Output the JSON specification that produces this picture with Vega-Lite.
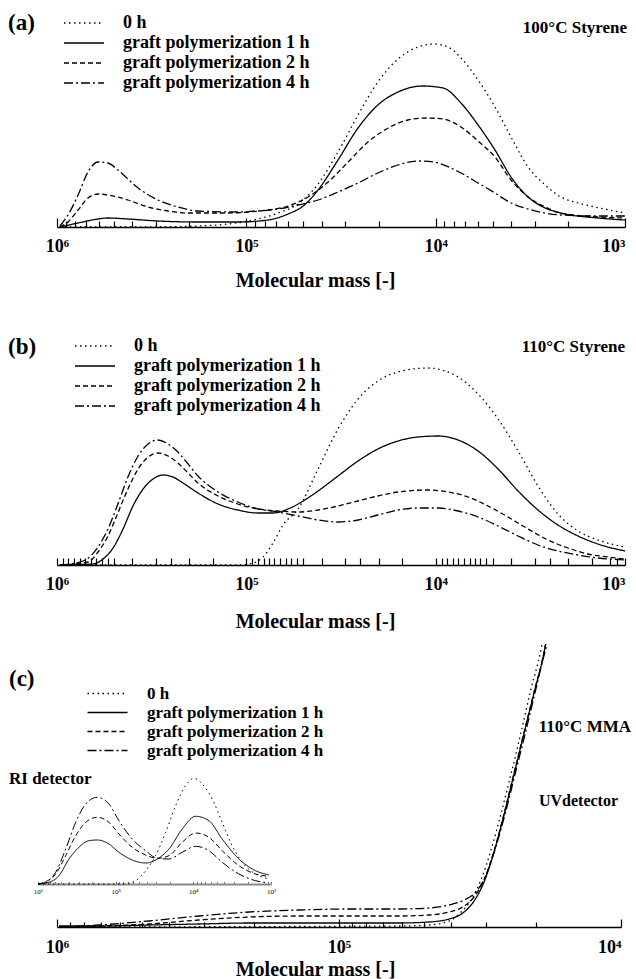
{
  "$schema": "https://vega.github.io/schema/vega-lite/v6.json",
  "padding": {"left": 7, "top": 0, "right": 0, "bottom": 0},
  "background": "white",
  "spacing": 10,
  "config": {
    "view": {"stroke": null},
    "font": "Liberation Serif",
    "axis": {"grid": false, "domainColor": "#000", "domainWidth": 1.5, "tickColor": "#000", "tickWidth": 1.2, "labelColor": "#000", "labelFont": "Liberation Serif", "labelFontWeight": "bold", "labelFontSize": 18, "labelFlush": false, "labelOverlap": false, "titleColor": "#000", "titleFont": "Liberation Serif", "titleFontWeight": "bold", "titleFontSize": 20},
    "legend": {"title": null, "symbolType": "M-4,0H4", "symbolSize": 100, "symbolOffset": 14, "symbolStrokeWidth": 1.5, "symbolStrokeColor": "#000", "labelFont": "Liberation Serif", "labelFontWeight": "bold", "labelColor": "#000", "labelLimit": 400, "padding": 0},
    "text": {"font": "Liberation Serif", "fontWeight": "bold", "color": "#000"},
    "line": {"color": "#000", "strokeWidth": 1.3, "interpolate": "monotone"}
  },
  "datasets": {
    "a": [
      {"s":"0","M":965000,"w":0},{"s":"0","M":330000,"w":0},{"s":"0","M":180000,"w":1},{"s":"0","M":125000,"w":3},{"s":"0","M":86700,"w":8},{"s":"0","M":68000,"w":14},{"s":"0","M":53300,"w":23},{"s":"0","M":41800,"w":43},{"s":"0","M":32800,"w":75},{"s":"0","M":25700,"w":112},{"s":"0","M":20200,"w":145},{"s":"0","M":15800,"w":168},{"s":"0","M":12400,"w":180},{"s":"0","M":10300,"w":183},{"s":"0","M":8600,"w":180},{"s":"0","M":7350,"w":169},{"s":"0","M":5970,"w":147},{"s":"0","M":4860,"w":120},{"s":"0","M":4000,"w":90},{"s":"0","M":3250,"w":60},{"s":"0","M":2640,"w":42},{"s":"0","M":2180,"w":30},{"s":"0","M":1770,"w":24},{"s":"0","M":1440,"w":20},{"s":"0","M":1000,"w":14},
      {"s":"1","M":965000,"w":0},{"s":"1","M":774000,"w":4},{"s":"1","M":607000,"w":8},{"s":"1","M":538000,"w":9},{"s":"1","M":422000,"w":8},{"s":"1","M":293000,"w":6},{"s":"1","M":180000,"w":5},{"s":"1","M":111000,"w":5},{"s":"1","M":76800,"w":7},{"s":"1","M":60200,"w":13},{"s":"1","M":50100,"w":21},{"s":"1","M":41800,"w":37},{"s":"1","M":32800,"w":67},{"s":"1","M":25700,"w":99},{"s":"1","M":20200,"w":122},{"s":"1","M":15800,"w":135},{"s":"1","M":11700,"w":141},{"s":"1","M":9140,"w":139},{"s":"1","M":7350,"w":124},{"s":"1","M":5970,"w":102},{"s":"1","M":4860,"w":77},{"s":"1","M":4000,"w":50},{"s":"1","M":3250,"w":30},{"s":"1","M":2640,"w":19},{"s":"1","M":2180,"w":14},{"s":"1","M":1390,"w":9},{"s":"1","M":1000,"w":7},
      {"s":"2","M":965000,"w":0},{"s":"2","M":875000,"w":5},{"s":"2","M":774000,"w":17},{"s":"2","M":686000,"w":29},{"s":"2","M":607000,"w":33},{"s":"2","M":538000,"w":32},{"s":"2","M":422000,"w":27},{"s":"2","M":330000,"w":20},{"s":"2","M":259000,"w":16},{"s":"2","M":203000,"w":14},{"s":"2","M":125000,"w":14},{"s":"2","M":98000,"w":15},{"s":"2","M":76800,"w":17},{"s":"2","M":60200,"w":21},{"s":"2","M":47200,"w":30},{"s":"2","M":37000,"w":45},{"s":"2","M":29000,"w":65},{"s":"2","M":22800,"w":85},{"s":"2","M":17800,"w":99},{"s":"2","M":14000,"w":107},{"s":"2","M":11200,"w":109},{"s":"2","M":9140,"w":108},{"s":"2","M":7350,"w":100},{"s":"2","M":5970,"w":86},{"s":"2","M":4860,"w":70},{"s":"2","M":4000,"w":47},{"s":"2","M":3250,"w":30},{"s":"2","M":2640,"w":20},{"s":"2","M":2180,"w":14},{"s":"2","M":1390,"w":10},{"s":"2","M":1000,"w":9},
      {"s":"4","M":965000,"w":1},{"s":"4","M":875000,"w":12},{"s":"4","M":774000,"w":32},{"s":"4","M":686000,"w":55},{"s":"4","M":607000,"w":65},{"s":"4","M":538000,"w":64},{"s":"4","M":477000,"w":57},{"s":"4","M":373000,"w":39},{"s":"4","M":293000,"w":27},{"s":"4","M":230000,"w":20},{"s":"4","M":180000,"w":16},{"s":"4","M":111000,"w":15},{"s":"4","M":86700,"w":16},{"s":"4","M":68000,"w":18},{"s":"4","M":53300,"w":22},{"s":"4","M":41800,"w":27},{"s":"4","M":32800,"w":35},{"s":"4","M":25700,"w":44},{"s":"4","M":20200,"w":54},{"s":"4","M":15800,"w":62},{"s":"4","M":12400,"w":66},{"s":"4","M":10300,"w":65},{"s":"4","M":7350,"w":54},{"s":"4","M":5970,"w":44},{"s":"4","M":4860,"w":34},{"s":"4","M":4000,"w":24},{"s":"4","M":3250,"w":18},{"s":"4","M":2180,"w":12},{"s":"4","M":1390,"w":11},{"s":"4","M":1000,"w":11}
    ],
    "b": [
      {"s":"0","M":965000,"w":0},{"s":"0","M":111000,"w":0},{"s":"0","M":92000,"w":2},{"s":"0","M":81600,"w":8},{"s":"0","M":72300,"w":22},{"s":"0","M":64000,"w":40},{"s":"0","M":53300,"w":56},{"s":"0","M":41800,"w":96},{"s":"0","M":32800,"w":136},{"s":"0","M":25700,"w":166},{"s":"0","M":20200,"w":184},{"s":"0","M":15800,"w":193},{"s":"0","M":11000,"w":197},{"s":"0","M":7610,"w":188},{"s":"0","M":5970,"w":171},{"s":"0","M":4680,"w":146},{"s":"0","M":3670,"w":114},{"s":"0","M":2880,"w":79},{"s":"0","M":2260,"w":51},{"s":"0","M":1770,"w":34},{"s":"0","M":1390,"w":25},{"s":"0","M":1000,"w":18},
      {"s":"1","M":965000,"w":0},{"s":"1","M":645000,"w":1},{"s":"1","M":571000,"w":6},{"s":"1","M":506000,"w":17},{"s":"1","M":448000,"w":36},{"s":"1","M":397000,"w":59},{"s":"1","M":351000,"w":76},{"s":"1","M":311000,"w":86},{"s":"1","M":275000,"w":90},{"s":"1","M":244000,"w":88},{"s":"1","M":216000,"w":82},{"s":"1","M":180000,"w":72},{"s":"1","M":141000,"w":61},{"s":"1","M":111000,"w":55},{"s":"1","M":86700,"w":52},{"s":"1","M":72300,"w":52},{"s":"1","M":60200,"w":56},{"s":"1","M":50100,"w":64},{"s":"1","M":41800,"w":74},{"s":"1","M":32800,"w":89},{"s":"1","M":25700,"w":104},{"s":"1","M":20200,"w":116},{"s":"1","M":15800,"w":124},{"s":"1","M":12400,"w":128},{"s":"1","M":9710,"w":129},{"s":"1","M":7610,"w":125},{"s":"1","M":5970,"w":114},{"s":"1","M":4680,"w":96},{"s":"1","M":3670,"w":74},{"s":"1","M":2880,"w":55},{"s":"1","M":2260,"w":40},{"s":"1","M":1770,"w":29},{"s":"1","M":1390,"w":21},{"s":"1","M":1000,"w":14},
      {"s":"2","M":965000,"w":0},{"s":"2","M":686000,"w":3},{"s":"2","M":607000,"w":13},{"s":"2","M":538000,"w":29},{"s":"2","M":477000,"w":52},{"s":"2","M":422000,"w":76},{"s":"2","M":373000,"w":96},{"s":"2","M":330000,"w":108},{"s":"2","M":293000,"w":112},{"s":"2","M":259000,"w":109},{"s":"2","M":230000,"w":102},{"s":"2","M":203000,"w":92},{"s":"2","M":180000,"w":82},{"s":"2","M":141000,"w":69},{"s":"2","M":111000,"w":61},{"s":"2","M":86700,"w":56},{"s":"2","M":68000,"w":54},{"s":"2","M":53300,"w":53},{"s":"2","M":41800,"w":55},{"s":"2","M":32800,"w":59},{"s":"2","M":25700,"w":64},{"s":"2","M":20200,"w":69},{"s":"2","M":15800,"w":73},{"s":"2","M":11000,"w":75},{"s":"2","M":8600,"w":73},{"s":"2","M":6740,"w":68},{"s":"2","M":5290,"w":59},{"s":"2","M":4150,"w":48},{"s":"2","M":3250,"w":36},{"s":"2","M":2550,"w":25},{"s":"2","M":2000,"w":17},{"s":"2","M":1570,"w":11},{"s":"2","M":1230,"w":8},{"s":"2","M":1000,"w":6},
      {"s":"4","M":965000,"w":0},{"s":"4","M":729000,"w":4},{"s":"4","M":607000,"w":18},{"s":"4","M":538000,"w":36},{"s":"4","M":477000,"w":61},{"s":"4","M":422000,"w":88},{"s":"4","M":373000,"w":109},{"s":"4","M":330000,"w":121},{"s":"4","M":293000,"w":125},{"s":"4","M":259000,"w":121},{"s":"4","M":230000,"w":113},{"s":"4","M":203000,"w":101},{"s":"4","M":180000,"w":89},{"s":"4","M":141000,"w":73},{"s":"4","M":111000,"w":63},{"s":"4","M":86700,"w":56},{"s":"4","M":68000,"w":53},{"s":"4","M":53300,"w":49},{"s":"4","M":41800,"w":45},{"s":"4","M":32800,"w":43},{"s":"4","M":25700,"w":45},{"s":"4","M":20200,"w":50},{"s":"4","M":15800,"w":55},{"s":"4","M":12400,"w":57},{"s":"4","M":9710,"w":57},{"s":"4","M":7610,"w":54},{"s":"4","M":5970,"w":48},{"s":"4","M":4680,"w":39},{"s":"4","M":3670,"w":29},{"s":"4","M":2880,"w":20},{"s":"4","M":2260,"w":14},{"s":"4","M":1770,"w":10},{"s":"4","M":1390,"w":7},{"s":"4","M":1000,"w":5}
    ],
    "cuv": [
      {"s":"0","M":984000,"w":0},{"s":"0","M":61300,"w":1},{"s":"0","M":48000,"w":2},{"s":"0","M":40700,"w":6},{"s":"0","M":36900,"w":15},{"s":"0","M":34000,"w":27},{"s":"0","M":31400,"w":47},{"s":"0","M":28900,"w":77},{"s":"0","M":26600,"w":114},{"s":"0","M":24500,"w":154},{"s":"0","M":22600,"w":195},{"s":"0","M":20900,"w":237},{"s":"0","M":19200,"w":278},{"s":"0","M":19050,"w":283},
      {"s":"1","M":984000,"w":1},{"s":"1","M":710000,"w":1},{"s":"1","M":472000,"w":2},{"s":"1","M":314000,"w":3},{"s":"1","M":208000,"w":4},{"s":"1","M":139000,"w":4},{"s":"1","M":92200,"w":4},{"s":"1","M":61300,"w":4},{"s":"1","M":48000,"w":5},{"s":"1","M":40700,"w":8},{"s":"1","M":36000,"w":15},{"s":"1","M":33200,"w":26},{"s":"1","M":30600,"w":45},{"s":"1","M":28200,"w":75},{"s":"1","M":26000,"w":112},{"s":"1","M":24000,"w":152},{"s":"1","M":22100,"w":193},{"s":"1","M":20300,"w":235},{"s":"1","M":18700,"w":276},{"s":"1","M":18500,"w":283},
      {"s":"2","M":984000,"w":0},{"s":"2","M":710000,"w":1},{"s":"2","M":472000,"w":3},{"s":"2","M":314000,"w":7},{"s":"2","M":208000,"w":10},{"s":"2","M":139000,"w":11},{"s":"2","M":92200,"w":11},{"s":"2","M":61300,"w":11},{"s":"2","M":48000,"w":12},{"s":"2","M":40700,"w":15},{"s":"2","M":36000,"w":21},{"s":"2","M":33200,"w":30},{"s":"2","M":30600,"w":47},{"s":"2","M":28200,"w":76},{"s":"2","M":26000,"w":113},{"s":"2","M":24000,"w":153},{"s":"2","M":22100,"w":194},{"s":"2","M":20300,"w":236},{"s":"2","M":18700,"w":276},{"s":"2","M":18500,"w":283},
      {"s":"4","M":984000,"w":0},{"s":"4","M":710000,"w":2},{"s":"4","M":472000,"w":6},{"s":"4","M":314000,"w":11},{"s":"4","M":208000,"w":15},{"s":"4","M":139000,"w":17},{"s":"4","M":92200,"w":18},{"s":"4","M":61300,"w":18},{"s":"4","M":48000,"w":19},{"s":"4","M":40700,"w":22},{"s":"4","M":36000,"w":27},{"s":"4","M":32700,"w":35},{"s":"4","M":30100,"w":52},{"s":"4","M":27800,"w":80},{"s":"4","M":25600,"w":116},{"s":"4","M":23600,"w":156},{"s":"4","M":21700,"w":197},{"s":"4","M":20000,"w":239},{"s":"4","M":18500,"w":278},{"s":"4","M":18300,"w":283}
    ],
    "cri": [
      {"s":"0","M":1000000,"w":0},{"s":"0","M":74300,"w":0},{"s":"0","M":55300,"w":3.3},{"s":"0","M":41100,"w":13.3},{"s":"0","M":30600,"w":28.3},{"s":"0","M":22700,"w":51.7},{"s":"0","M":16900,"w":78.3},{"s":"0","M":12600,"w":98.3},{"s":"0","M":9820,"w":105.7},{"s":"0","M":7680,"w":100},{"s":"0","M":5710,"w":85},{"s":"0","M":4250,"w":61.7},{"s":"0","M":3160,"w":38.3},{"s":"0","M":2350,"w":21.7},{"s":"0","M":1580,"w":10},{"s":"0","M":1060,"w":5},
      {"s":"1","M":1000000,"w":0},{"s":"1","M":722000,"w":1.7},{"s":"1","M":537000,"w":8.3},{"s":"1","M":399000,"w":25},{"s":"1","M":297000,"w":36.7},{"s":"1","M":221000,"w":43.3},{"s":"1","M":172000,"w":44},{"s":"1","M":122000,"w":40},{"s":"1","M":90700,"w":31.7},{"s":"1","M":61200,"w":24},{"s":"1","M":41100,"w":21},{"s":"1","M":29100,"w":25},{"s":"1","M":20600,"w":35},{"s":"1","M":13900,"w":55},{"s":"1","M":9340,"w":67.7},{"s":"1","M":6300,"w":63.3},{"s":"1","M":4250,"w":45},{"s":"1","M":2590,"w":25},{"s":"1","M":1580,"w":13.3},{"s":"1","M":1060,"w":9},
      {"s":"2","M":1000000,"w":0},{"s":"2","M":796000,"w":2.3},{"s":"2","M":592000,"w":10},{"s":"2","M":440000,"w":28.3},{"s":"2","M":327000,"w":48.3},{"s":"2","M":243000,"w":61.7},{"s":"2","M":172000,"w":66.7},{"s":"2","M":122000,"w":61.7},{"s":"2","M":90700,"w":50},{"s":"2","M":61200,"w":36.7},{"s":"2","M":41100,"w":29},{"s":"2","M":29100,"w":25.7},{"s":"2","M":20600,"w":28.3},{"s":"2","M":13900,"w":41.7},{"s":"2","M":9340,"w":51},{"s":"2","M":6300,"w":46.7},{"s":"2","M":4250,"w":33.3},{"s":"2","M":2590,"w":18.3},{"s":"2","M":1580,"w":10},{"s":"2","M":1060,"w":7.7},
      {"s":"4","M":1000000,"w":0},{"s":"4","M":796000,"w":1.7},{"s":"4","M":592000,"w":11.7},{"s":"4","M":440000,"w":35},{"s":"4","M":327000,"w":61.7},{"s":"4","M":243000,"w":80},{"s":"4","M":172000,"w":86.7},{"s":"4","M":122000,"w":80},{"s":"4","M":90700,"w":63.3},{"s":"4","M":61200,"w":45},{"s":"4","M":41100,"w":33.3},{"s":"4","M":29100,"w":25.7},{"s":"4","M":20600,"w":25},{"s":"4","M":13900,"w":31.7},{"s":"4","M":9340,"w":37.7},{"s":"4","M":6300,"w":33.3},{"s":"4","M":4250,"w":21.7},{"s":"4","M":2590,"w":10},{"s":"4","M":1580,"w":3.3},{"s":"4","M":1060,"w":1}
    ]
  },
  "vconcat": [
    {
      "width": 568, "height": 227,
      "layer": [
        {
          "data": {"name": "a"},
          "mark": {"type": "line"},
          "encoding": {
            "x": {"field": "M", "type": "quantitative", "scale": {"type": "log", "domain": [1000, 1000000], "reverse": true, "nice": false},
              "axis": {"values": [1000,2000,3000,4000,5000,6000,7000,8000,9000,10000,20000,30000,40000,50000,60000,70000,80000,90000,100000,200000,300000,400000,500000,600000,700000,800000,900000,1000000],
                "labelExpr": "datum.value == 1000000 ? '10⁶' : datum.value == 100000 ? '10⁵' : datum.value == 10000 ? '10⁴' : datum.value == 1000 ? '10³' : ''",
                "labelAlign": {"condition": {"test": "datum.value == 1000", "value": "right"}, "value": "center"},
                "tickSize": {"condition": {"test": "datum.value == 1000 || datum.value == 10000 || datum.value == 100000 || datum.value == 1000000", "value": -9}, "value": -6},
                "labelPadding": 19, "title": "Molecular mass [-]", "titlePadding": 12, "titleX": 258}},
            "y": {"field": "w", "type": "quantitative", "scale": {"domain": [0, 227]}, "axis": null},
            "strokeDash": {"field": "s", "type": "nominal", "scale": {"domain": ["0","1","2","4"], "range": [[1.5,3.5],[1,0],[5,3],[9,3,2,3]]},
              "legend": {"orient": "none", "legendX": 4, "legendY": 14, "labelFontSize": 18, "labelOffset": 30, "rowPadding": 2, "labelExpr": "datum.label == '0' ? '0 h' : 'graft polymerization ' + datum.label + ' h'"}}
          }
        },
        {
          "data": {"values": [{"t": "(a)"}]},
          "mark": {"type": "text", "align": "left", "baseline": "middle", "fontSize": 23},
          "encoding": {"text": {"field": "t"}, "x": {"datum": 1815000, "type": "quantitative", "scale": {"type": "log", "domain": [1000, 1000000], "reverse": true, "nice": false}}, "y": {"datum": 204, "type": "quantitative", "scale": {"domain": [0, 227]}}}
        },
        {
          "data": {"values": [{"t": "100°C Styrene"}]},
          "mark": {"type": "text", "align": "right", "baseline": "middle", "fontSize": 17},
          "encoding": {"text": {"field": "t"}, "x": {"datum": 975, "type": "quantitative", "scale": {"type": "log", "domain": [1000, 1000000], "reverse": true, "nice": false}}, "y": {"datum": 199, "type": "quantitative", "scale": {"domain": [0, 227]}}}
        }
      ]
    },
    {
      "width": 568, "height": 265,
      "layer": [
        {
          "data": {"name": "b"},
          "mark": {"type": "line"},
          "encoding": {
            "x": {"field": "M", "type": "quantitative", "scale": {"type": "log", "domain": [1000, 1000000], "reverse": true, "nice": false},
              "axis": {"values": [1000,1100,1200,1500,2000,2500,3000,4000,5000,5400,5800,6200,6600,7100,7600,8100,8700,9300,10000,15000,20000,25000,30000,40000,50000,54000,58000,62000,66000,71000,76000,81000,87000,93000,100000,150000,200000,250000,300000,400000,500000,540000,580000,620000,660000,710000,760000,810000,870000,930000,1000000],
                "labelExpr": "datum.value == 1000000 ? '10⁶' : datum.value == 100000 ? '10⁵' : datum.value == 10000 ? '10⁴' : datum.value == 1000 ? '10³' : ''",
                "labelAlign": {"condition": {"test": "datum.value == 1000", "value": "right"}, "value": "center"},
                "tickSize": -7, "labelPadding": 17, "title": "Molecular mass [-]", "titlePadding": 18, "titleX": 258}},
            "y": {"field": "w", "type": "quantitative", "scale": {"domain": [0, 265]}, "axis": null},
            "strokeDash": {"field": "s", "type": "nominal", "scale": {"domain": ["0","1","2","4"], "range": [[1.5,3.5],[1,0],[5,3],[9,3,2,3]]},
              "legend": {"orient": "none", "legendX": 15, "legendY": 37, "labelFontSize": 18, "labelOffset": 30, "rowPadding": 2, "labelExpr": "datum.label == '0' ? '0 h' : 'graft polymerization ' + datum.label + ' h'"}}
          }
        },
        {
          "data": {"values": [{"t": "(b)"}]},
          "mark": {"type": "text", "align": "left", "baseline": "middle", "fontSize": 23},
          "encoding": {"text": {"field": "t"}, "x": {"datum": 1815000, "type": "quantitative", "scale": {"type": "log", "domain": [1000, 1000000], "reverse": true, "nice": false}}, "y": {"datum": 218, "type": "quantitative", "scale": {"domain": [0, 265]}}}
        },
        {
          "data": {"values": [{"t": "110°C Styrene"}]},
          "mark": {"type": "text", "align": "right", "baseline": "middle", "fontSize": 17},
          "encoding": {"text": {"field": "t"}, "x": {"datum": 1000, "type": "quantitative", "scale": {"type": "log", "domain": [1000, 1000000], "reverse": true, "nice": false}}, "y": {"datum": 218, "type": "quantitative", "scale": {"domain": [0, 265]}}}
        }
      ]
    },
    {
      "width": 564, "height": 284,
      "layer": [
        {
          "layer": [
            {
              "data": {"name": "cuv"},
              "mark": {"type": "line"},
              "encoding": {
                "x": {"field": "M", "type": "quantitative", "scale": {"type": "log", "domain": [10000, 1000000], "reverse": true, "nice": false},
                  "axis": {"values": [10000,20000,30000,40000,50000,60000,70000,80000,90000,100000,200000,300000,400000,500000,600000,700000,800000,900000,1000000],
                    "labelExpr": "datum.value == 1000000 ? '10⁶' : datum.value == 100000 ? '10⁵' : datum.value == 10000 ? '10⁴' : ''",
                    "labelAlign": {"condition": {"test": "datum.value == 10000", "value": "right"}, "value": "center"},
                    "tickSize": {"condition": {"test": "datum.value == 10000 || datum.value == 100000 || datum.value == 1000000", "value": -8}, "value": -5},
                    "labelPadding": 19, "title": "Molecular mass [-]", "titlePadding": 0, "titleX": 258}},
                "y": {"field": "w", "type": "quantitative", "scale": {"domain": [0, 284]}, "axis": null},
                "strokeDash": {"field": "s", "type": "nominal", "scale": {"domain": ["0","1","2","4"], "range": [[1.5,3.5],[1,0],[5,3],[9,3,2,3]]},
                  "legend": {"orient": "none", "legendX": 28, "legendY": 42, "labelFontSize": 17, "labelOffset": 31, "rowPadding": 1, "labelExpr": "datum.label == '0' ? '0 h' : 'graft polymerization ' + datum.label + ' h'"}}
              }
            },
            {
              "data": {"values": [{"t": "(c)"}]},
              "mark": {"type": "text", "align": "left", "baseline": "middle", "fontSize": 23},
              "encoding": {"text": {"field": "t"}, "x": {"datum": 1480000, "type": "quantitative", "scale": {"type": "log", "domain": [10000, 1000000], "reverse": true, "nice": false}}, "y": {"datum": 248, "type": "quantitative", "scale": {"domain": [0, 284]}}}
            },
            {
              "data": {"values": [{"t": "110°C MMA"}]},
              "mark": {"type": "text", "align": "right", "baseline": "middle", "fontSize": 17},
              "encoding": {"text": {"field": "t"}, "x": {"datum": 9215, "type": "quantitative", "scale": {"type": "log", "domain": [10000, 1000000], "reverse": true, "nice": false}}, "y": {"datum": 200, "type": "quantitative", "scale": {"domain": [0, 284]}}}
            },
            {
              "data": {"values": [{"t": "UVdetector"}]},
              "mark": {"type": "text", "align": "left", "baseline": "middle", "fontSize": 16},
              "encoding": {"text": {"field": "t"}, "x": {"datum": 19540, "type": "quantitative", "scale": {"type": "log", "domain": [10000, 1000000], "reverse": true, "nice": false}}, "y": {"datum": 126, "type": "quantitative", "scale": {"domain": [0, 284]}}}
            },
            {
              "data": {"values": [{"t": "RI detector"}]},
              "mark": {"type": "text", "align": "left", "baseline": "middle", "fontSize": 17},
              "encoding": {"text": {"field": "t"}, "x": {"datum": 1480000, "type": "quantitative", "scale": {"type": "log", "domain": [10000, 1000000], "reverse": true, "nice": false}}, "y": {"datum": 148, "type": "quantitative", "scale": {"domain": [0, 284]}}}
            }
          ]
        },
        {
          "data": {"name": "cri"},
          "mark": {"type": "line", "strokeWidth": 1},
          "encoding": {
            "x": {"field": "M", "type": "quantitative", "scale": {"type": "log", "domain": [1000, 1000000], "reverse": true, "nice": false, "range": [-19, 214]},
              "axis": {"orient": "bottom", "offset": -43, "values": [1000,2000,3000,4000,5000,6000,7000,8000,9000,10000,20000,30000,40000,50000,60000,70000,80000,90000,100000,200000,300000,400000,500000,600000,700000,800000,900000,1000000],
                "labelExpr": "datum.value == 1000000 ? '10⁶' : datum.value == 100000 ? '10⁵' : datum.value == 10000 ? '10⁴' : datum.value == 1000 ? '10³' : ''",
                "labelFontSize": 7, "labelFontWeight": "normal", "tickSize": -2.5, "tickWidth": 0.8, "tickColor": "#555", "domainColor": "#888", "domainWidth": 2, "labelPadding": 6, "title": null}},
            "y": {"field": "w", "type": "quantitative", "scale": {"domain": [0, 110], "range": [241, 131]}, "axis": null},
            "strokeDash": {"field": "s", "type": "nominal", "scale": {"domain": ["0","1","2","4"], "range": [[1.5,3.5],[1,0],[5,3],[9,3,2,3]]}}
          }
        }
      ],
      "resolve": {"scale": {"x": "independent", "y": "independent"}, "axis": {"x": "independent", "y": "independent"}}
    }
  ],
  "resolve": {"scale": {"strokeDash": "independent"}, "legend": {"strokeDash": "independent"}}
}
